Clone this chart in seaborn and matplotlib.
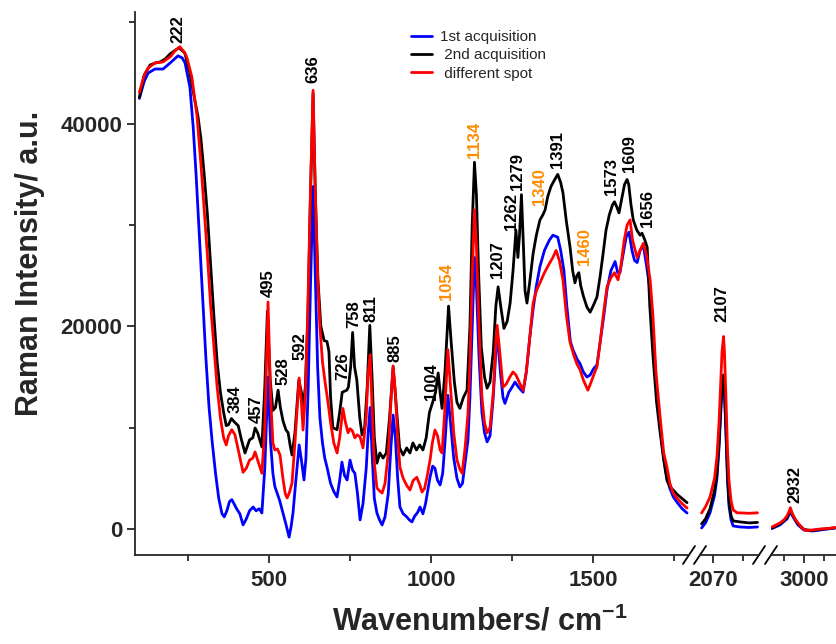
import numpy as np
import pandas as pd
import matplotlib
matplotlib.use('Agg')
import matplotlib.pyplot as plt
import seaborn as sns

# ---------------- data ----------------
series_names = ['1st acquisition', ' 2nd acquisition', ' different spot']
series_colors = ['#0000FF', '#000000', '#FF0000']

# segment 1 (low wavenumbers)
wn_blue1 = [100, 115, 127, 148, 173, 195, 219, 232, 241, 256, 266, 275, 285, 295, 305, 315, 325, 335, 345, 355,
            362, 370, 378, 385, 392, 400, 410, 420, 430, 440, 451, 460, 470, 478, 487, 497, 505, 512, 518, 525,
            533, 543, 552, 562, 568, 574, 582, 593, 600, 608, 614, 621, 628, 636, 643, 650, 657, 665, 672, 679,
            690, 700, 710, 718, 725, 733, 741, 750, 758, 765, 773, 781, 790, 800, 806, 812, 818, 825, 833, 841,
            849, 858, 868, 876, 883, 890, 897, 904, 914, 925, 933, 941, 950, 958, 966, 975, 983, 990, 997, 1005,
            1012, 1020, 1028, 1036, 1044, 1052, 1060, 1070, 1080, 1089, 1097, 1105, 1114, 1120, 1127, 1134, 1140,
            1148, 1157, 1165, 1173, 1182, 1192, 1200, 1206, 1214, 1222, 1228, 1240, 1250, 1259, 1270, 1284, 1294,
            1305, 1315, 1325, 1336, 1350, 1365, 1376, 1391, 1400, 1410, 1419, 1430, 1438, 1450, 1460, 1470, 1481,
            1491, 1501, 1512, 1522, 1533, 1543, 1555, 1568, 1576, 1583, 1592, 1602, 1611, 1620, 1628, 1636, 1645,
            1655, 1665, 1676, 1685, 1694, 1707, 1718, 1728, 1737, 1747, 1760, 1775, 1790]
int_blue1 = [42500, 44200, 45000, 45400, 45400, 46000, 46700, 46500, 46000, 43600, 39700, 35000, 29000, 23000, 17000,
             12000, 8500, 5500, 3000, 1500, 1200, 1800, 2700, 2900, 2500, 2000, 1500, 400, 1000, 1800, 2170, 1800,
             2000, 1580, 6000, 15000, 8500, 5500, 4200, 3550, 2800, 1580, 500, -800, 200, 1580, 4500, 8300, 6800,
             4840, 7000, 14000, 24000, 33800, 25000, 16000, 11000, 8500, 7000, 6100, 4500, 3700, 3160, 4800, 6600,
             5300, 4840, 6800, 5800, 5500, 3500, 900, 2500, 6000, 9500, 12000, 7500, 3000, 1580, 900, 400, 1200,
             3500, 8000, 11250, 9000, 5000, 2170, 1500, 1200, 900, 700, 1300, 1600, 2170, 1500, 2500, 3800, 5130,
             6200, 6000, 4800, 4340, 5500, 9000, 13200, 10500, 7000, 5000, 4150, 4500, 6500, 8800, 13000, 20000,
             26800, 24000, 17000, 11500, 9500, 8600, 9200, 13000, 17500, 18650, 15500, 13000, 12400, 13500, 14000,
             14500, 14000, 13500, 15500, 19000, 21700, 24000, 25900, 27500, 28500, 29000, 28800, 27500, 25500, 22000,
             18500, 17700, 16800, 16300, 15500, 15000, 15200, 15800, 16200, 18500, 21000, 23600, 25500, 26400, 25300,
             25300, 27000, 28800, 29300, 27500, 26500, 26300, 27500, 28000, 26000, 23500, 19500, 14500, 10000, 7000,
             5000, 4000, 3200, 2600, 2000, 1580]

wn_black1 = [100, 115, 133, 150, 164, 180, 195, 222, 240, 256, 270, 281, 290, 300, 310, 320, 330, 340, 350, 360,
             368, 375, 384, 395, 405, 415, 426, 440, 450, 457, 465, 478, 487, 495, 503, 512, 520, 528, 535, 543,
             552, 559, 565, 571, 580, 592, 600, 605, 612, 620, 628, 636, 643, 651, 660, 670, 679, 685, 690, 697,
             710, 718, 726, 740, 745, 752, 758, 764, 771, 780, 787, 795, 803, 811, 818, 825, 833, 842, 852, 862,
             872, 883, 893, 903, 914, 925, 935, 944, 955, 965, 975, 985, 995, 1004, 1014, 1022, 1028, 1034, 1043,
             1054, 1062, 1072, 1080, 1089, 1100, 1111, 1120, 1127, 1134, 1140, 1147, 1155, 1165, 1173, 1182, 1192,
             1200, 1207, 1215, 1225, 1235, 1244, 1253, 1262, 1268, 1273, 1279, 1285, 1290, 1296, 1305, 1315, 1325,
             1336, 1345, 1352, 1360, 1370, 1380, 1391, 1400, 1407, 1417, 1429, 1437, 1444, 1450, 1456, 1462, 1470,
             1481, 1491, 1500, 1512, 1522, 1531, 1540, 1550, 1560, 1566, 1573, 1580, 1588, 1597, 1605, 1610, 1617,
             1624, 1635, 1645, 1651, 1660, 1667, 1675, 1685, 1696, 1707, 1718, 1728, 1737, 1747, 1760, 1775, 1790]
int_black1 = [42600, 44800, 45800, 46000, 46100, 46400, 46900, 47500, 47000, 45000, 42500, 40700, 38500, 35000, 31000,
              26000, 21000, 16500, 13500, 11500, 10200, 10300, 10900, 10500, 10200, 8800, 7500, 8800, 9000, 9970,
              9500, 8100, 14000, 21500, 15000, 11700, 12000, 13700, 12000, 10700, 9800, 9500, 8300, 7300, 9500,
              14700, 13500, 12000, 14000, 21000, 33000, 43000, 33000, 24600, 20000, 18600, 18500, 17500, 13000,
              10000, 9800, 11500, 13500, 13700, 14000, 16000, 19400, 16000, 14700, 11000, 9300, 10000, 14000, 20100,
              15000, 9000, 6500, 7500, 7000, 7500, 11000, 16000, 12000, 8000, 7300, 8000, 7500, 8500, 7800, 8300,
              7800, 9000, 11500, 12400, 13500, 15400, 13500, 11900, 15500, 22000, 18500, 14500, 12500, 11900, 13000,
              13700, 20000, 30000, 36200, 33000, 25000, 18000, 15000, 13900, 14500, 17500, 22000, 23900, 22000,
              19800, 20500, 22300, 25500, 29500, 26800, 29000, 33000, 28000, 23500, 22300, 24500, 27200, 29000,
              30500, 31000, 31500, 32800, 33800, 34400, 35000, 34200, 33200, 30500, 27800, 25500, 24300, 25000,
              25300, 24000, 23000, 21900, 21400, 22000, 22900, 25000, 27200, 29500, 31000, 32000, 32300, 31800,
              31200, 32500, 34000, 34500, 34000, 32000, 30500, 29500, 29000, 29200, 28500, 27800, 22000, 17000,
              12500, 9500, 6800, 4800, 4200, 3850, 3400, 3000, 2600]

wn_red1 = [100, 115, 127, 148, 173, 195, 210, 225, 240, 247, 262, 278, 290, 300, 310, 320, 330, 340, 350, 360,
           368, 375, 385, 395, 405, 420, 430, 440, 450, 457, 465, 478, 487, 497, 505, 512, 518, 526, 534, 543,
           550, 556, 563, 571, 580, 593, 600, 605, 612, 620, 628, 636, 643, 650, 657, 665, 673, 682, 690, 700,
           710, 718, 728, 736, 744, 750, 757, 765, 772, 781, 790, 800, 805, 812, 818, 825, 833, 840, 849, 858,
           868, 876, 883, 890, 897, 904, 914, 925, 935, 945, 956, 965, 972, 980, 988, 997, 1004, 1012, 1020, 1028,
           1034, 1042, 1052, 1060, 1070, 1080, 1089, 1096, 1105, 1114, 1120, 1127, 1134, 1140, 1148, 1157, 1165,
           1173, 1182, 1192, 1200, 1204, 1212, 1222, 1232, 1243, 1253, 1262, 1272, 1284, 1294, 1305, 1315, 1325,
           1336, 1350, 1365, 1376, 1386, 1396, 1407, 1418, 1429, 1440, 1450, 1460, 1470, 1484, 1494, 1503, 1512,
           1522, 1533, 1543, 1555, 1566, 1577, 1586, 1596, 1605, 1614, 1622, 1630, 1636, 1645, 1655, 1665, 1676,
           1685, 1694, 1707, 1718, 1728, 1737, 1747, 1760, 1775, 1790]
int_red1 = [43100, 44800, 45500, 46000, 46100, 46600, 47200, 47600, 47000, 46500, 44600, 40700, 36000, 31500, 27000,
            22000, 18000, 14000, 11000, 9000, 8300, 9200, 9800, 9300, 7800, 5600, 6000, 6800, 7000, 7600, 6800,
            5500, 10000, 22400, 13000, 8500, 7800, 7900, 7300, 5000, 3500, 3060, 3600, 4540, 8500, 14900, 12500,
            9770, 13000, 22000, 33500, 43300, 33000, 25000, 20000, 16500, 14500, 12500, 10500, 8500, 7500, 9000,
            11900, 10500, 9500, 9900, 9700, 9000, 9300, 9100, 8000, 11000, 15000, 17200, 12000, 6500, 4050, 3800,
            3550, 4500, 7500, 12500, 16100, 13500, 9000, 6100, 5000, 4300, 3850, 4800, 5100, 4400, 3650, 4000,
            5200, 6800, 8500, 9770, 9200, 7800, 7500, 11500, 17700, 14000, 9500, 6800, 5900, 5500, 8000, 11400,
            16500, 25000, 31500, 28000, 20000, 13000, 10500, 9500, 10000, 13500, 18500, 20100, 17500, 14000, 14300,
            15000, 15500, 15200, 14500, 13700, 15500, 19000, 22300, 23500, 24300, 25300, 26200, 26800, 27500,
            26500, 24600, 21000, 18400, 17200, 16300, 15700, 14700, 13700, 14500, 15300, 16000, 18500, 21500,
            23900, 24800, 25300, 24600, 26000, 28500, 30000, 30500, 28500, 27500, 26800, 27500, 28200, 27000,
            24600, 20900, 15500, 11000, 7500, 6100, 4500, 3550, 3000, 2500, 2070]

# segment 2 (around 2100 cm-1)
wn_blue2 = [2032, 2045, 2060, 2075, 2083, 2090, 2095, 2100, 2105, 2108, 2113, 2118, 2123, 2130, 2137, 2160, 2190, 2218]
int_blue2 = [100, 600, 1600, 3300, 5000, 8000, 11000, 14000, 14900, 13500, 9500, 5000, 2300, 900, 300, 200, 150, 200]
wn_black2 = [2032, 2045, 2060, 2075, 2083, 2090, 2095, 2100, 2105, 2108, 2113, 2118, 2123, 2130, 2137, 2160, 2190, 2218]
int_black2 = [500, 1000, 2000, 3800, 5500, 8500, 11500, 14300, 15200, 14000, 10000, 5500, 2800, 1300, 800, 700, 600, 650]
wn_red2 = [2032, 2045, 2060, 2075, 2083, 2090, 2095, 2100, 2105, 2108, 2113, 2118, 2123, 2130, 2137, 2150, 2170, 2190, 2218]
int_red2 = [1580, 2200, 3160, 5000, 7100, 10500, 14000, 17500, 19000, 17500, 13000, 8000, 4840, 2800, 1880, 1600, 1580, 1550, 1600]

# segment 3 (C-H region)
wn_blue3 = [2840, 2880, 2915, 2932, 2945, 2970, 3000, 3040, 3080, 3120, 3155]
int_blue3 = [50, 400, 1000, 1700, 1200, 400, -100, -200, -100, 0, 100]
wn_black3 = [2840, 2880, 2915, 2932, 2945, 2970, 3000, 3040, 3080, 3120, 3155]
int_black3 = [100, 500, 1100, 1900, 1300, 500, -50, -150, -50, 50, 100]
wn_red3 = [2840, 2860, 2880, 2900, 2915, 2925, 2932, 2940, 2955, 2970, 2990, 3010, 3040, 3080, 3120, 3155]
int_red3 = [200, 400, 600, 900, 1300, 1700, 2100, 1600, 1000, 600, 100, -150, -100, 0, 50, 150]

# peak annotations
peak_text1 = ['222', '384', '457', '495', '528', '592', '636', '726', '758', '811', '885', '1004',
              '1054', '1134', '1207', '1262', '1279', '1340', '1391', '1460', '1573', '1609', '1656']
peak_orange1 = [False, False, False, False, False, False, False, False, False, False, False, False,
                True, True, False, False, False, True, False, True, False, False, False]
peak_text2 = ['2107']
peak_text3 = ['2932']

# annotation anchor positions (data coordinates)
peak_x1 = [219, 395, 460, 497, 543, 596, 636, 728, 762, 815, 889, 1000,
           1049, 1133, 1204, 1247, 1268, 1336, 1389, 1472, 1558, 1611, 1667]
peak_y1 = [47970, 11450, 10460, 22900, 14200, 16680, 44020, 14700, 19840, 20430, 16480, 12730,
           22600, 36620, 24770, 29510, 33460, 31980, 35630, 26060, 32960, 35240, 29800]
peak_x2 = [2100]
peak_y2 = [20430]
peak_x3 = [2955]
peak_y3 = [2570]

# ---------------- style ----------------
sns.set_style('ticks')
plt.rcParams['font.family'] = ['Liberation Sans', 'DejaVu Sans']
plt.rcParams['mathtext.fontset'] = 'custom'
plt.rcParams['mathtext.rm'] = 'Liberation Sans'
plt.rcParams['mathtext.bf'] = 'Liberation Sans:bold'

W, H = 836, 644
fig = plt.figure(figsize=(W / 100, H / 100), dpi=100)

bottom = 1 - 555 / H
height = (555 - 12) / H
ax1 = fig.add_axes([135 / W, bottom, (689 - 135) / W, height])
ax2 = fig.add_axes([700 / W, bottom, (759 - 700) / W, height], sharey=ax1)
ax3 = fig.add_axes([771 / W, bottom, (836 - 771) / W, height], sharey=ax1)


def frame(parts):
    dfs = [pd.DataFrame({'wn': wn, 'I': inten, 'series': name}) for name, wn, inten in parts]
    return pd.concat(dfs, ignore_index=True)


df1 = frame([(series_names[0], wn_blue1, int_blue1), (series_names[1], wn_black1, int_black1),
             (series_names[2], wn_red1, int_red1)])
df2 = frame([(series_names[0], wn_blue2, int_blue2), (series_names[1], wn_black2, int_black2),
             (series_names[2], wn_red2, int_red2)])
df3 = frame([(series_names[0], wn_blue3, int_blue3), (series_names[1], wn_black3, int_black3),
             (series_names[2], wn_red3, int_red3)])

pal = dict(zip(series_names, series_colors))
for ax, df in ((ax1, df1), (ax2, df2), (ax3, df3)):
    sns.lineplot(data=df, x='wn', y='I', hue='series', hue_order=series_names, palette=pal,
                 estimator=None, sort=True, linewidth=2.0, ax=ax, legend=(ax is ax1))

ax1.set_xlim(86.5, 1796)
ax2.set_xlim(2026.7, 2223)
ax3.set_xlim(2835, 3160)
ax1.set_ylim(-2566, 51028)

for ax in (ax1, ax2, ax3):
    ax.set_xlabel('')
    ax.set_ylabel('')
    for s in ('top', 'right'):
        ax.spines[s].set_visible(False)
    ax.spines['bottom'].set_linewidth(1.3)
    ax.tick_params(axis='x', which='major', length=6, width=1.3, direction='out', pad=5)
    ax.tick_params(axis='x', which='minor', length=4, width=1.3, direction='out')
    ax.patch.set_alpha(0)
for ax in (ax2, ax3):
    ax.spines['left'].set_visible(False)
    ax.tick_params(axis='y', which='both', left=False, labelleft=False)

ax1.spines['left'].set_linewidth(1.3)
ax1.set_yticks([0, 20000, 40000])
ax1.set_yticks([10000, 30000, 50000], minor=True)
ax1.tick_params(axis='y', which='major', length=6, width=1.3, direction='out', pad=3)
ax1.tick_params(axis='y', which='minor', length=4, width=1.3, direction='out')
ax1.set_xticks([500, 1000, 1500])
ax1.set_xticks([250, 750, 1250, 1750], minor=True)
ax2.set_xticks([2070])
ax2.set_xticks([2170], minor=True)
ax3.set_xticks([3000])
ax3.set_xticks([2900, 3100], minor=True)
for ax in (ax1, ax2, ax3):
    for lab in ax.get_xticklabels() + ax.get_yticklabels():
        lab.set_fontsize(16)
        lab.set_fontweight('bold')


# break marks
def slash(ax, xa):
    bb = ax.get_position()
    dx = 6 / (bb.width * W)
    dy = 9 / (bb.height * H)
    ax.plot([xa - dx, xa + dx], [-dy, dy], transform=ax.transAxes, color='black', lw=1.3, clip_on=False)


slash(ax1, 1)
slash(ax2, 0)
slash(ax2, 1)
slash(ax3, 0)

# peak labels
ann_font = dict(fontsize=12, fontweight='bold', rotation=90, ha='center', va='bottom')
for t, x, y, o in zip(peak_text1, peak_x1, peak_y1, peak_orange1):
    ax1.text(x, y, t, color='#FF8C00' if o else 'black', **ann_font)
for t, x, y in zip(peak_text2, peak_x2, peak_y2):
    ax2.text(x, y, t, color='black', **ann_font)
for t, x, y in zip(peak_text3, peak_x3, peak_y3):
    ax3.text(x, y, t, color='black', **ann_font)

# legend
handles, labels = ax1.get_legend_handles_labels()
if ax1.get_legend() is not None:
    ax1.get_legend().remove()
for h in handles:
    h.set_linewidth(2.0)
fig.legend(handles, labels, loc='upper left', bbox_to_anchor=(411 / W, 1 - 30 / H), frameon=False,
           fontsize=11, handlelength=1.4, handletextpad=0.5, labelspacing=0.28, borderpad=0, borderaxespad=0)

# axis titles
fig.text(30 / W, 1 - 263 / H, 'Raman Intensity/ a.u.', rotation=90, ha='center', va='center',
         fontsize=22, fontweight='bold')
fig.text(480 / W, 1 - 622 / H, 'Wavenumbers/ cm$^{\\mathbf{-1}}$', ha='center', va='center',
         fontsize=22, fontweight='bold')

fig.savefig('out.png', dpi=100)
